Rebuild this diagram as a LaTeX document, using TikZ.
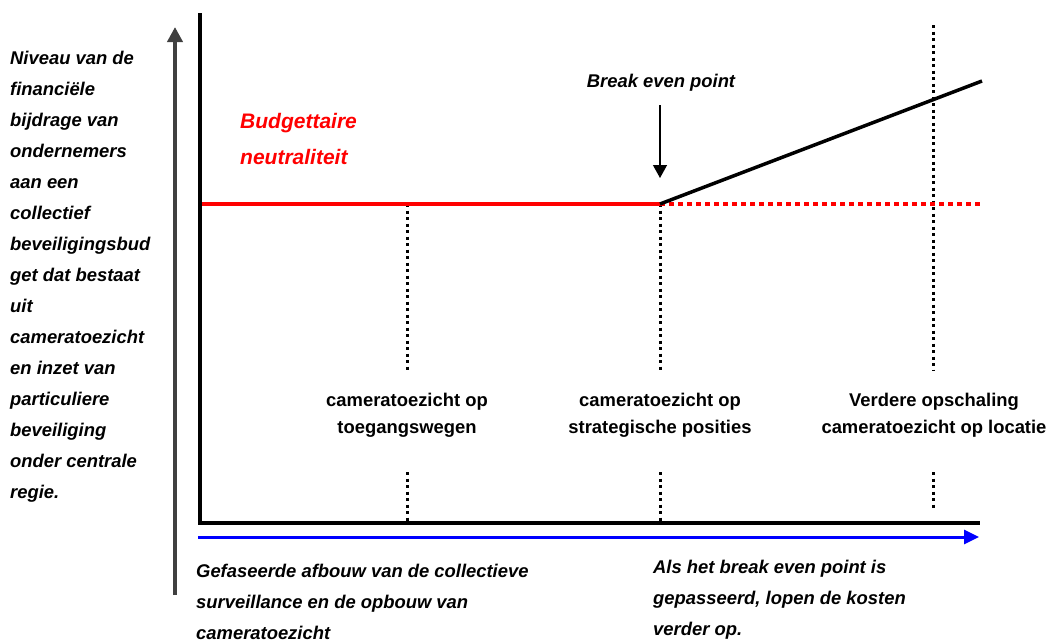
\documentclass[tikz,border=0pt]{standalone}
\usepackage{fontspec}
\setmainfont{Liberation Sans}
\usetikzlibrary{arrows.meta}
\definecolor{axisgray}{HTML}{404040}
\definecolor{budgetred}{HTML}{FF0000}
\definecolor{timeblue}{HTML}{0000FF}
\tikzset{
  axisline/.style={line width=3.5pt, black, line join=miter},
  dotline/.style={line width=3pt, black, dash pattern=on 3pt off 3.5pt},
  reddot/.style={line width=3.5pt, budgetred, dash pattern=on 4.5pt off 4.5pt},
  note/.style={inner sep=0pt, align=left, font=\bfseries\itshape\fontsize{18.4}{31}\selectfont},
  phase/.style={inner sep=0pt, align=center, anchor=north, font=\bfseries\fontsize{18.4}{27.5}\selectfont},
  redlabel/.style={inner sep=0pt, align=left, text=budgetred, font=\bfseries\itshape\fontsize{21}{36}\selectfont}
}
\begin{document}
\begin{tikzpicture}[x=1pt,y=-1pt]
\useasboundingbox (0,0) rectangle (1052,640);

% key points of the graph
\coordinate (ytop) at (200,13);
\coordinate (origin) at (200,523);
\coordinate (xend) at (980,523);
\coordinate (bstart) at (200,204);
\coordinate (bep) at (660,204);
\coordinate (bend) at (981,204);
\coordinate (rise) at (982,81);
\coordinate (gbot) at (175,595);
\coordinate (gtop) at (175,27);
\coordinate (tbeg) at (198,537);
\coordinate (tend) at (979,537);
\coordinate (pin) at (660,105);
\coordinate (pintip) at (660,178);

% vertical markers (upper and lower parts)
\coordinate (a1) at (407,204);  \coordinate (a2) at (407,371);
\coordinate (a3) at (407,472);  \coordinate (a4) at (407,523);
\coordinate (b1) at (660,204);  \coordinate (b2) at (660,371);
\coordinate (b3) at (660,472);  \coordinate (b4) at (660,523);
\coordinate (c1) at (933,25);   \coordinate (c2) at (933,371);
\coordinate (c3) at (933,472);  \coordinate (c4) at (933,509);

% level axis on the left
\draw[axisgray, line width=4pt, -{Triangle[width=15pt,length=15pt]}] (gbot) -- (gtop);

% time axis
\draw[timeblue, line width=3pt, -{Triangle[width=14pt,length=15pt]}] (tbeg) -- (tend);

% markers
\draw[dotline] (a1) -- (a2);
\draw[dotline] (a3) -- (a4);
\draw[dotline] (b1) -- (b2);
\draw[dotline] (b3) -- (b4);
\draw[dotline] (c1) -- (c2);
\draw[dotline] (c3) -- (c4);

% budget level
\draw[budgetred, line width=3.5pt] (bstart) -- (bep);
\draw[reddot] (bep) -- (bend);
\draw[black, line width=3.5pt] (bep) -- (rise);

% main axes
\draw[axisline] (ytop) -- (origin) -- (xend);

% break even pointer
\draw[black, line width=1.3pt, -{Triangle[width=14pt,length=13pt]}] (pin) -- (pintip);
\node[note, anchor=base] (bep label) at (661,87) {Break even point};

% texts
\node[note, anchor=north west] (level) at (10,51)
  {Niveau van de\\financiële\\bijdrage van\\ondernemers\\aan een\\collectief\\beveiligingsbud\\get dat bestaat\\uit\\cameratoezicht\\en inzet van\\particuliere\\beveiliging\\onder centrale\\regie.};

\node[redlabel, anchor=north west] (neutral) at (240,113)
  {Budgettaire\\neutraliteit};

\node[phase] (phase1) at (407,392.5) {cameratoezicht op\\toegangswegen};
\node[phase] (phase2) at (660,392.5) {cameratoezicht op\\strategische posities};
\node[phase] (phase3) at (934,392.5) {Verdere opschaling\\cameratoezicht op locatie};

\node[note, anchor=north west] (phasing) at (196,563.5)
  {Gefaseerde afbouw van de collectieve\\surveillance en de opbouw van\\cameratoezicht};
\node[note, anchor=north west] (beyond) at (653,559.5)
  {Als het break even point is\\gepasseerd, lopen de kosten\\verder op.};
\end{tikzpicture}
\end{document}
